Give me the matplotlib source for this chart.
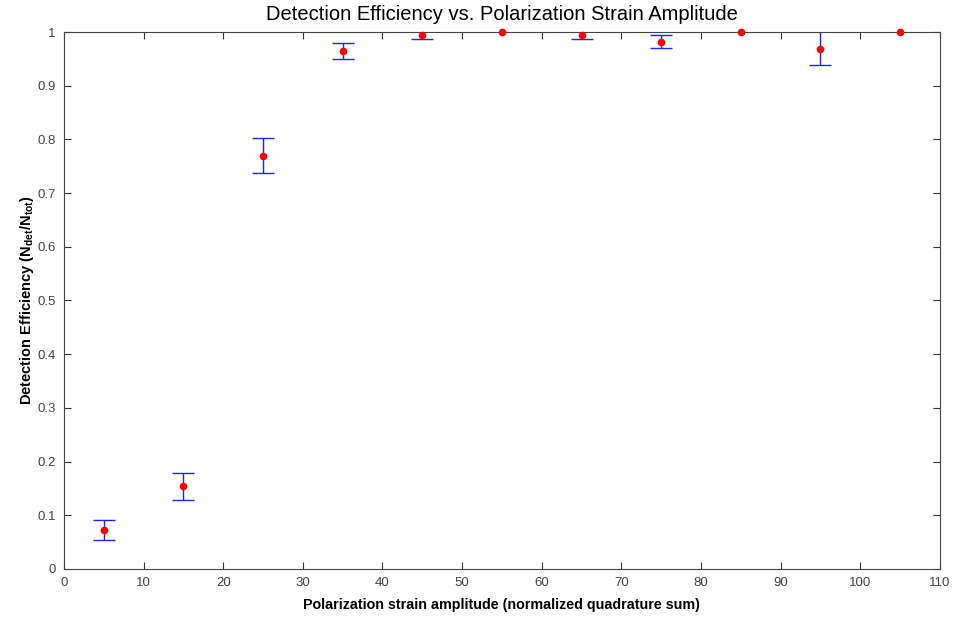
import numpy as np
from matplotlib import pyplot as plt
plt.rcParams.update({'font.family': ['Liberation Sans', 'DejaVu Sans']})

# data
strain = [5, 15, 25, 35, 45, 55, 65, 75, 85, 95, 105]
eff = [0.072, 0.155, 0.769, 0.965, 0.994, 1.0, 0.995, 0.982, 1.0, 0.968, 1.0]
err_low = [0.018, 0.027, 0.032, 0.015, 0.006, 0.0, 0.007, 0.011, 0.0, 0.030, 0.0]
err_high = [0.019, 0.024, 0.034, 0.014, 0.010, 0.0, 0.007, 0.013, 0.0, 0.034, 0.0]

fig = plt.figure(figsize=(9.56, 6.17), dpi=100)
ax = fig.add_axes([0.067, 0.078, 0.916, 0.870])

# only points with a non-zero error get a bar
x = np.array(strain)
y = np.array(eff)
lo = np.array(err_low)
hi = np.array(err_high)
m = (lo + hi) > 0
ax.errorbar(x[m], y[m], yerr=[lo[m], hi[m]], fmt='none', ecolor='#2020ff',
            elinewidth=1, capsize=8, capthick=1)
ax.plot(strain, eff, 'o', color='red', markersize=4.5, clip_on=False, zorder=5)

ax.set_xlim(0, 110)
ax.set_ylim(0, 1)
ax.set_xticks(np.arange(0, 111, 10))
ax.set_yticks(np.arange(0, 1.01, 0.1))
ax.set_yticklabels(['0', '0.1', '0.2', '0.3', '0.4', '0.5', '0.6', '0.7', '0.8', '0.9', '1'])
ax.tick_params(direction='in', top=True, right=True, length=5, labelsize=9.5,
               colors='#333333', labelcolor='#444444', pad=6)
for s in ax.spines.values():
    s.set_color('#444444')

ax.set_title('Detection Efficiency vs. Polarization Strain Amplitude', fontsize=14.5, pad=9)
ax.set_xlabel('Polarization strain amplitude (normalized quadrature sum)',
              fontsize=10.3, fontweight='bold', labelpad=6)
ax.set_ylabel(r'Detection Efficiency (N$_{\mathregular{det}}$/N$_{\mathregular{tot}}$)',
              fontsize=10.5, fontweight='bold', labelpad=1)

fig.savefig('out.png', dpi=100)
